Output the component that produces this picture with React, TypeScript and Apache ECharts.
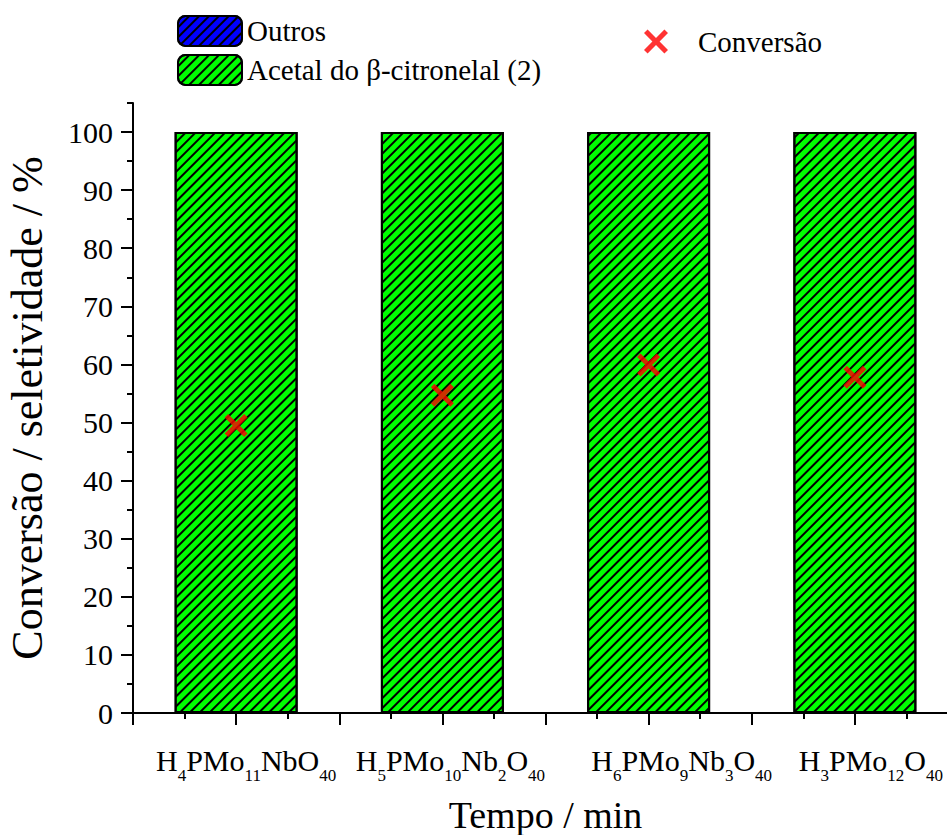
import React, { useEffect, useRef } from "react";
import * as echarts from "echarts";

const categories = ["H4PMo11NbO40", "H5PMo10Nb2O40", "H6PMo9Nb3O40", "H3PMo12O40"];
const positions = [1, 2, 3, 4];
const outros = [0, 0, 0, 0];
const acetal = [100, 100, 100, 100];
const conversao = [49.5, 54.7, 59.9, 57.8];
const yMajorTicks = [0, 10, 20, 30, 40, 50, 60, 70, 80, 90, 100];

// layout: horizontal shift (px) of each category label from its tick
const labelShift = [10, 8, 33, 16];

const FONT = "Liberation Serif";

function toRich(s: string, i: number): string {
  return (
    `{g${i}| }` +
    s
      .split(/(\d+)/)
      .filter((p) => p.length > 0)
      .map((p) => (/^\d+$/.test(p) ? `{s|${p}}` : `{m|${p}}`))
      .join("")
  );
}

const XPATH =
  "path://M0,3 L3,0 L10,7 L17,0 L20,3 L13,10 L20,17 L17,20 L10,13 L3,20 L0,17 L7,10 Z";

const hatch = {
  symbol: "rect",
  symbolSize: 1,
  color: "rgba(0,0,0,1)",
  dashArrayX: [1, 0],
  dashArrayY: [1.1, 4.4],
  rotation: -Math.PI / 4,
};

export default function App() {
  const ref = useRef<HTMLDivElement>(null);
  useEffect(() => {
    document.body.style.margin = "0";
    const chart = echarts.init(ref.current!, undefined, { renderer: "svg" });
    const rich: Record<string, any> = {
      m: { fontFamily: FONT, fontSize: 30, color: "#000", lineHeight: 30, padding: [0, 0, 16, 0] },
      s: { fontFamily: FONT, fontSize: 17, color: "#000", lineHeight: 17, padding: [22, 0, 7, 0] },
    };
    labelShift.forEach((d, i) => {
      rich["g" + i] = { fontSize: 10, width: 2 * d, lineHeight: 10, color: "transparent" };
    });
    chart.setOption({
      animation: false,
      backgroundColor: "#fff",
      textStyle: { fontFamily: FONT, color: "#000" },
      grid: {
        left: 133,
        width: 825,
        top: 103,
        bottom: 122,
        containLabel: false,
        outerBoundsMode: "none",
      },
      legend: [
        {
          data: ["Outros", "Acetal do β-citronelal (2)"],
          orient: "vertical",
          left: 172,
          top: 10,
          itemWidth: 64,
          itemHeight: 30,
          itemGap: 7,
          textStyle: { fontFamily: FONT, fontSize: 29, color: "#000" },
        },
        {
          data: ["Conversão"],
          left: 639,
          top: 22,
          itemWidth: 24,
          itemHeight: 24,
          itemGap: 20,
          textStyle: { fontFamily: FONT, fontSize: 29, color: "#000", padding: [0, 0, 0, 25] },
        },
      ],
      xAxis: {
        type: "value",
        min: 0.5,
        max: 4.5,
        interval: 0.5,
        name: "Tempo / min",
        nameLocation: "middle",
        nameGap: 76,
        nameTextStyle: { fontFamily: FONT, fontSize: 38, color: "#000" },
        splitLine: { show: false },
        axisLine: { show: true, lineStyle: { color: "#000", width: 2 } },
        axisTick: { show: true, length: 12, lineStyle: { color: "#000", width: 2 } },
        minorTick: { show: true, splitNumber: 2, length: 6, lineStyle: { color: "#000", width: 2 } },
        axisLabel: {
          margin: 40,
          fontFamily: FONT,
          formatter: (v: number) => {
            const i = positions.indexOf(v);
            return i >= 0 ? toRich(categories[i], i) : "";
          },
          rich,
        },
      },
      yAxis: [
        {
          type: "value",
          min: 0,
          max: 105,
          interval: 5,
          name: "Conversão / seletividade / %",
          nameLocation: "middle",
          nameGap: 84,
          nameTextStyle: { fontFamily: FONT, fontSize: 44, color: "#000" },
          splitLine: { show: false },
          axisLine: { show: true, lineStyle: { color: "#000", width: 2 } },
          axisTick: { show: true, length: 6, lineStyle: { color: "#000", width: 2 } },
          axisLabel: {
            margin: 20,
            fontFamily: FONT,
            fontSize: 30,
            color: "#000",
            formatter: (v: number) => (yMajorTicks.indexOf(v) >= 0 ? String(v) : ""),
          },
        },
        {
          type: "value",
          min: 0,
          max: 105,
          position: "left",
          splitLine: { show: false },
          axisLine: { show: false },
          axisLabel: { show: false },
          axisTick: {
            show: true,
            length: 12,
            customValues: yMajorTicks,
            lineStyle: { color: "#000", width: 2 },
          },
        },
      ],
      series: [
        {
          name: "Outros",
          type: "bar",
          stack: "s",
          barWidth: 123,
          data: positions.map((x, i) => [x, outros[i]]),
          itemStyle: { color: "#0000ff", borderColor: "#000", borderWidth: 2, decal: hatch },
        },
        {
          name: "Acetal do β-citronelal (2)",
          type: "bar",
          stack: "s",
          barWidth: 123,
          data: positions.map((x, i) => [x, acetal[i]]),
          itemStyle: { color: "#00ff00", borderColor: "#000", borderWidth: 2, decal: hatch },
        },
        {
          name: "Conversão",
          type: "scatter",
          symbol: XPATH,
          symbolSize: 23,
          z: 10,
          data: positions.map((x, i) => [x, conversao[i]]),
          itemStyle: { color: "#ff0000" },
        },
      ],
    });
    return () => chart.dispose();
  }, []);
  return <div ref={ref} style={{ width: 947, height: 835 }} />;
}
